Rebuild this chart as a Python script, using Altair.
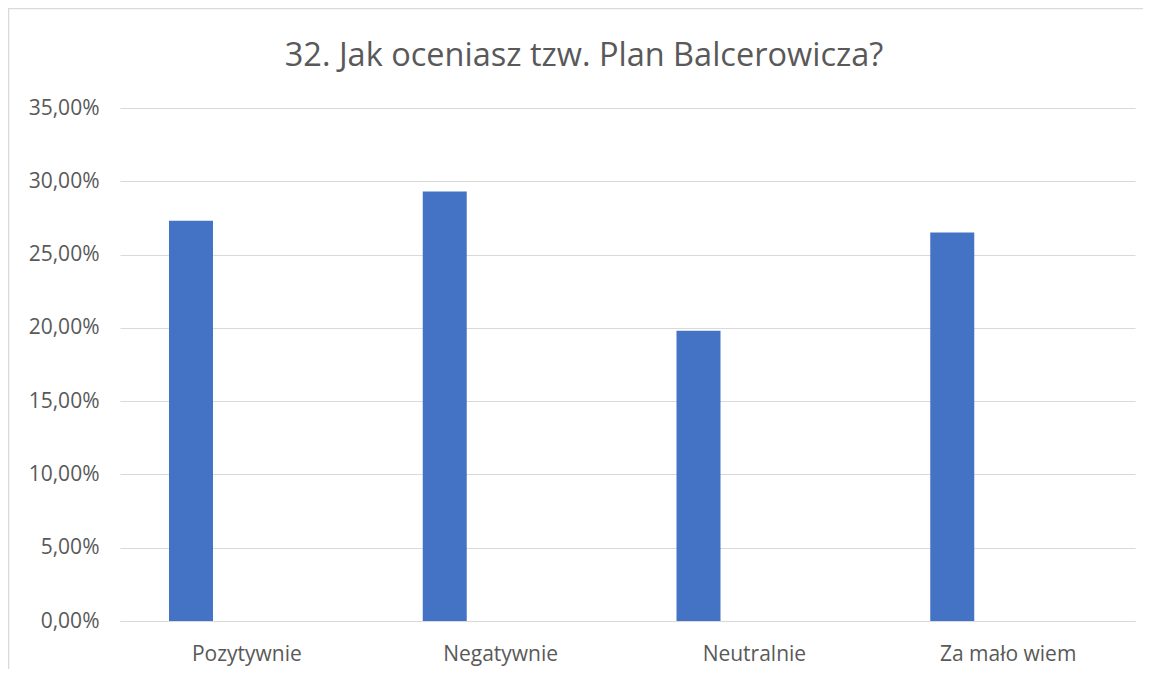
import altair as alt
import pandas as pd

title_text = "32. Jak oceniasz tzw. Plan Balcerowicza?"
categories = ["Pozytywnie", "Negatywnie", "Neutralnie", "Za mało wiem"]
values = [0.273, 0.293, 0.198, 0.265]
series = ["S1", "S1", "S1", "S1"]
slots = ["S1", "S2", "S3"]
tick_values = [0, 0.05, 0.10, 0.15, 0.20, 0.25, 0.30, 0.35]

df = pd.DataFrame({"cat": categories, "val": values, "series": series})

W, H = 1015, 513
FONT = "Open Sans"
GRAY = "#595959"
LINE = "#d9d9d9"

bars = alt.Chart(df).mark_bar(color="#4472c4").encode(
    x=alt.X(
        "cat:N",
        sort=categories,
        scale=alt.Scale(paddingInner=0, paddingOuter=0),
        axis=alt.Axis(
            title=None, labelAngle=0, ticks=False, domainColor=LINE, domainWidth=1,
            labelPadding=22, labelFontSize=21, labelColor=GRAY, labelFont=FONT,
        ),
    ),
    xOffset=alt.XOffset(
        "series:N",
        scale=alt.Scale(domain=slots, paddingInner=0.2125, paddingOuter=0.877),
    ),
    y=alt.Y(
        "val:Q",
        scale=alt.Scale(domain=[0, 0.35], nice=False),
        axis=alt.Axis(
            title=None, values=tick_values, ticks=False, domain=False,
            gridColor=LINE, gridWidth=1, labelPadding=21, labelFontSize=21,
            labelColor=GRAY, labelFont=FONT,
            labelExpr="replace(format(datum.value, '.2%'), '.', ',')",
        ),
    ),
)

frame = alt.Chart(pd.DataFrame({"a": [0]})).mark_rect(
    filled=False, stroke=LINE, strokeWidth=1.5
).encode(
    x=alt.value(-111.5), x2=alt.value(W + 40),
    y=alt.value(-99.5), y2=alt.value(H + 80),
)

title = alt.Chart(pd.DataFrame({"t": [title_text]})).mark_text(
    font=FONT, fontSize=32.5, color=GRAY, align="center", baseline="alphabetic"
).encode(
    text="t:N",
    x=alt.value(464),
    y=alt.value(-42),
)

chart = alt.layer(frame, bars, title).properties(
    width=W, height=H,
    autosize=alt.AutoSizeParams(type="none"),
    padding={"left": 112, "top": 100, "right": 8, "bottom": 48},
).configure_view(stroke=None)

chart.save("out.html", embed_options={"renderer": "svg", "actions": False})
